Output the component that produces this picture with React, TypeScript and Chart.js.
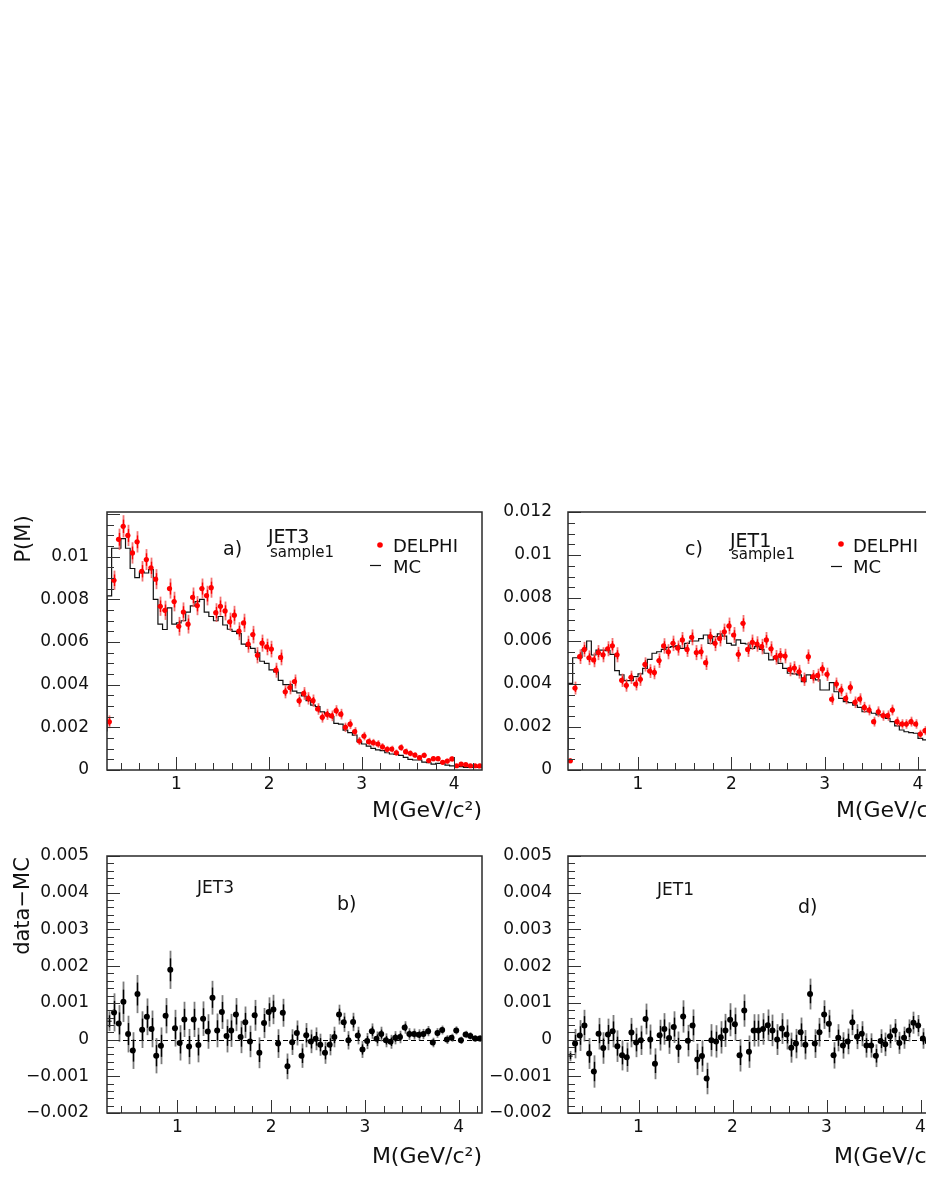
import React, { useEffect, useRef } from 'react';
import { Chart, registerables } from 'chart.js';

Chart.register(...registerables);

// ---------------- data ----------------
const massBinCenters = [
  0.275, 0.325, 0.375, 0.425, 0.475, 0.525, 0.575, 0.625, 0.675, 0.725,
  0.775, 0.825, 0.875, 0.925, 0.975, 1.025, 1.075, 1.125, 1.175, 1.225,
  1.275, 1.325, 1.375, 1.425, 1.475, 1.525, 1.575, 1.625, 1.675, 1.725,
  1.775, 1.825, 1.875, 1.925, 1.975, 2.025, 2.075, 2.125, 2.175, 2.225,
  2.275, 2.325, 2.375, 2.425, 2.475, 2.525, 2.575, 2.625, 2.675, 2.725,
  2.775, 2.825, 2.875, 2.925, 2.975, 3.025, 3.075, 3.125, 3.175, 3.225,
  3.275, 3.325, 3.375, 3.425, 3.475, 3.525, 3.575, 3.625, 3.675, 3.725,
  3.775, 3.825, 3.875, 3.925, 3.975, 4.025, 4.075, 4.125, 4.175, 4.225,
  4.275,
];
const BIN_HALF_WIDTH = 0.025;

// JET3 sample1: DELPHI data, errors, MC
const jet3Data = [
  0.00226, 0.0089, 0.01082, 0.01143, 0.011, 0.01018, 0.0107, 0.00932, 0.00987, 0.00948,
  0.00895, 0.00768, 0.00749, 0.00851, 0.0079, 0.00674, 0.00741, 0.00684, 0.0081, 0.00771,
  0.00851, 0.00818, 0.00855, 0.00738, 0.00768, 0.00746, 0.00695, 0.00726, 0.00651, 0.0069,
  0.0059, 0.00635, 0.00538, 0.00595, 0.00577, 0.00567, 0.00468, 0.00528, 0.00367, 0.00387,
  0.00415, 0.00325, 0.00359, 0.00336, 0.00325, 0.00286, 0.00247, 0.00261, 0.00254, 0.00278,
  0.00262, 0.002, 0.00215, 0.0018, 0.00136, 0.00159, 0.00133, 0.00128, 0.00122, 0.00109,
  0.00097, 0.00098, 0.00081, 0.00105, 0.00086, 0.00078, 0.0007, 0.00058, 0.00069, 0.00044,
  0.00053, 0.00053, 0.00036, 0.00042, 0.00052, 0.0002, 0.00028, 0.00025, 0.0002, 0.0002,
  0.00019,
];
const jet3DataErr = [
  0.0003, 0.00045, 0.0005, 0.00052, 0.0005, 0.0005, 0.0005, 0.00048, 0.00049, 0.00048,
  0.00047, 0.00045, 0.00045, 0.00047, 0.00046, 0.00044, 0.00045, 0.00044, 0.00046, 0.00045,
  0.00047, 0.00046, 0.00047, 0.00044, 0.00045, 0.00044, 0.00043, 0.00044, 0.00042, 0.00043,
  0.0004, 0.00041, 0.00038, 0.0004, 0.00039, 0.00039, 0.00035, 0.00037, 0.00031, 0.00032,
  0.00033, 0.00029, 0.0003, 0.00029, 0.00029, 0.00027, 0.00025, 0.00026, 0.00025, 0.00026,
  0.00025, 0.00022, 0.00023, 0.00021, 0.00019, 0.0002, 0.00018, 0.00018, 0.00018, 0.00017,
  0.00016, 0.00016, 0.00015, 0.00016, 0.00015, 0.00014, 0.00013, 0.00012, 0.00013, 0.00011,
  0.00012, 0.00012, 0.0001, 0.00011, 0.00012, 0.00008, 0.00009, 0.00008, 0.00008, 0.00008,
  0.00008,
];
const jet3MC = [
  0.0018, 0.00817, 0.0104, 0.0104, 0.01085, 0.0104, 0.00945, 0.00902, 0.00929, 0.00924,
  0.0094, 0.008, 0.00684, 0.00659, 0.0076, 0.00684, 0.0069, 0.007, 0.0074, 0.0077,
  0.0079, 0.008, 0.0074, 0.0072, 0.007, 0.0072, 0.0068, 0.0066, 0.0065, 0.0064,
  0.0059, 0.0058, 0.0057, 0.0055, 0.0051, 0.005, 0.0047, 0.0046, 0.0042, 0.004,
  0.004, 0.0037, 0.00362, 0.00347, 0.00325, 0.00304, 0.00297, 0.00273, 0.00265, 0.0025,
  0.00219, 0.00215, 0.00187, 0.00175, 0.00164, 0.00133, 0.00122, 0.00112, 0.00101, 0.00094,
  0.00091, 0.00081, 0.00075, 0.00073, 0.00069, 0.00059, 0.0005, 0.00047, 0.00047, 0.00037,
  0.00034, 0.00028, 0.00031, 0.00031, 0.00023, 0.00019, 0.00019, 0.00016, 0.00012, 0.00012,
  0.00012,
];
// JET3 data - MC
const jet3Diff = [
  0.0005, 0.00074, 0.00044, 0.00103, 0.00015, -0.0003, 0.00124, 0.00027, 0.00062, 0.00029,
  -0.00044, -0.00017, 0.00065, 0.0019, 0.00031, -0.00009, 0.00055, -0.00019, 0.00055, -0.00015,
  0.00057, 0.00022, 0.00114, 0.00025, 0.00075, 0.0001, 0.00025, 0.00068, 0.00007, 0.00047,
  -0.00005, 0.00066, -0.00036, 0.00045, 0.00075, 0.00082, -0.00011, 0.00073, -0.00073, -0.00007,
  0.00018, -0.00044, 0.00012, -0.00005, 0.00002, -0.00014, -0.00036, -0.00014, 0.00007, 0.00068,
  0.00047, -0.00002, 0.00048, 0.00011, -0.00027, -0.00004, 0.00023, 0.00002, 0.00015, -0.00002,
  -0.00006, 0.00005, 0.00007, 0.00033, 0.00015, 0.00015, 0.00013, 0.00015, 0.00023, -0.00008,
  0.00018, 0.00026, 0.0, 0.00005, 0.00025, -0.00002, 0.00014, 0.0001, 0.00003, 0.00003,
];
const jet3DiffErr = [
  0.00027, 0.00052, 0.0005, 0.00055, 0.0005, 0.0005, 0.00052, 0.0005, 0.0005, 0.0005,
  0.00048, 0.0005, 0.00048, 0.00052, 0.0005, 0.00048, 0.00048, 0.00048, 0.00048, 0.00047,
  0.00047, 0.00047, 0.00046, 0.00046, 0.00046, 0.00045, 0.00045, 0.00045, 0.00044, 0.00043,
  0.00043, 0.00042, 0.00042, 0.00041, 0.0004, 0.0004, 0.00039, 0.00038, 0.00035, 0.00035,
  0.00034, 0.00033, 0.00033, 0.00032, 0.00031, 0.0003, 0.0003, 0.00029, 0.00028, 0.00027,
  0.00026, 0.00025, 0.00025, 0.00024, 0.00023, 0.00022, 0.00021, 0.0002, 0.0002, 0.00019,
  0.00019, 0.00018, 0.00017, 0.00017, 0.00016, 0.00015, 0.00015, 0.00014, 0.00014, 0.00013,
  0.00013, 0.00012, 0.00012, 0.00011, 0.00011, 0.0001, 0.0001, 0.0001, 0.00009, 0.00009,
];

// JET1 sample1: DELPHI data, errors, MC
const jet1Data = [
  0.00043, 0.00381, 0.00527, 0.00561, 0.00522, 0.00512, 0.00546, 0.00536, 0.00564, 0.00578,
  0.00536, 0.00417, 0.00394, 0.00431, 0.004, 0.00422, 0.00491, 0.0046, 0.00454, 0.00509,
  0.00577, 0.0055, 0.00589, 0.00567, 0.00605, 0.00561, 0.00617, 0.00546, 0.0055, 0.00499,
  0.0062, 0.00589, 0.00612, 0.00643, 0.0067, 0.00628, 0.00538, 0.00682, 0.00561, 0.00594,
  0.00586, 0.00574, 0.00605, 0.00564, 0.00524, 0.00533, 0.0053, 0.00468, 0.00474, 0.00457,
  0.00422, 0.00527, 0.00434, 0.0044, 0.0047, 0.00445, 0.00329, 0.004, 0.00372, 0.00333,
  0.00384, 0.00315, 0.0033, 0.00291, 0.00279, 0.00225, 0.00271, 0.00253, 0.00253, 0.00279,
  0.00225, 0.00214, 0.00214, 0.00225, 0.00214, 0.00167, 0.00183, 0.0016, 0.0015, 0.0014,
  0.0013,
];
const jet1DataErr = [
  0.00012, 0.0003, 0.00034, 0.00035, 0.00034, 0.00034, 0.00035, 0.00035, 0.00035, 0.00036,
  0.00035, 0.00031, 0.0003, 0.00031, 0.0003, 0.00031, 0.00033, 0.00032, 0.00032, 0.00034,
  0.00036, 0.00035, 0.00036, 0.00035, 0.00037, 0.00035, 0.00037, 0.00035, 0.00035, 0.00034,
  0.00037, 0.00036, 0.00037, 0.00038, 0.00039, 0.00037, 0.00035, 0.00039, 0.00035, 0.00036,
  0.00036, 0.00036, 0.00037, 0.00035, 0.00034, 0.00034, 0.00034, 0.00032, 0.00032, 0.00032,
  0.00031, 0.00034, 0.00031, 0.00031, 0.00032, 0.00031, 0.00027, 0.0003, 0.00029, 0.00027,
  0.00029, 0.00027, 0.00027, 0.00026, 0.00025, 0.00023, 0.00025, 0.00024, 0.00024, 0.00025,
  0.00023, 0.00022, 0.00022, 0.00023, 0.00022, 0.0002, 0.00021, 0.0002, 0.00019, 0.00019,
  0.00018,
];
const jet1MC = [
  0.00093, 0.00403, 0.00522, 0.00522, 0.0056, 0.006, 0.00535, 0.00558, 0.00558, 0.00555,
  0.00538, 0.00462, 0.00442, 0.00416, 0.00416, 0.00434, 0.00447, 0.00473, 0.00515, 0.00543,
  0.0055, 0.00561, 0.0057, 0.00574, 0.00577, 0.00566, 0.00589, 0.006, 0.006, 0.00611,
  0.00628, 0.00589, 0.0062, 0.00633, 0.00623, 0.00589, 0.00581, 0.00605, 0.00589, 0.00586,
  0.00566, 0.00574, 0.00561, 0.00543, 0.00512, 0.00527, 0.00496, 0.00473, 0.0045, 0.00447,
  0.00442, 0.00411, 0.00442, 0.00426, 0.00419, 0.00372, 0.00372, 0.00406, 0.00364, 0.00333,
  0.00318, 0.00313, 0.00302, 0.00291, 0.00271, 0.00271, 0.00264, 0.00256, 0.00256, 0.0024,
  0.00225, 0.00205, 0.00186, 0.00178, 0.00174, 0.00171, 0.00147, 0.0014, 0.0013, 0.0013,
  0.0012,
];
// JET1 data - MC
const jet1Diff = [
  -0.00045, -0.00011, 0.00011, 0.00038, -0.00038, -0.00087, 0.00016, -0.00023, 0.00014, 0.00023,
  -0.00018, -0.00043, -0.00048, 0.00019, -0.00008, -0.00002, 0.00056, 0.0, -0.00066, 0.00012,
  0.00029, 0.00004, 0.00034, -0.00021, 0.00063, -0.00003, 0.00038, -0.00054, -0.00045, -0.00106,
  -0.00002, -0.00005, 0.00006, 0.00025, 0.00054, 0.00042, -0.00043, 0.00079, -0.00033, 0.00025,
  0.00025, 0.00029, 0.00039, 0.00025, 0.0, 0.0003, 0.00014, -0.00022, -0.00011, 0.0002,
  -0.00014, 0.00124, -0.00011, 0.0002, 0.00068, 0.00043, -0.00043, 0.00005, -0.00016, -0.00005,
  0.00047, 0.00008, 0.00016, -0.00016, -0.00016, -0.00044, -0.00004, -0.00013, 0.00009, 0.00025,
  -0.00009, 0.00005, 0.00025, 0.00046, 0.00038, 0.00003, -0.00005, 0.0001, -0.0001, 0.00015,
];
const jet1DiffErr = [
  0.00014, 0.0004, 0.00042, 0.00043, 0.00042, 0.00044, 0.00043, 0.00043, 0.00043, 0.00044,
  0.00043, 0.00041, 0.0004, 0.0004, 0.0004, 0.0004, 0.00042, 0.00041, 0.00042, 0.00042,
  0.00043, 0.00043, 0.00043, 0.00043, 0.00044, 0.00043, 0.00044, 0.00043, 0.00043, 0.00043,
  0.00044, 0.00044, 0.00044, 0.00045, 0.00045, 0.00045, 0.00044, 0.00044, 0.00044, 0.00044,
  0.00044, 0.00043, 0.00043, 0.00043, 0.00042, 0.00042, 0.00041, 0.00041, 0.0004, 0.0004,
  0.0004, 0.00042, 0.00039, 0.00039, 0.00039, 0.00038, 0.00036, 0.00037, 0.00036, 0.00035,
  0.00035, 0.00034, 0.00034, 0.00033, 0.00033, 0.00031, 0.00032, 0.00032, 0.00032, 0.00031,
  0.0003, 0.0003, 0.0003, 0.0003, 0.00029, 0.00028, 0.00028, 0.00027, 0.00027, 0.00026,
];

// ticks
const massTicks = [1, 2, 3, 4];
const massTickLabels = ['1', '2', '3', '4'];
const probTicksJet3 = [0, 0.002, 0.004, 0.006, 0.008, 0.01];
const probTickLabelsJet3 = ['0', '0.002', '0.004', '0.006', '0.008', '0.01'];
const probTicksJet1 = [0, 0.002, 0.004, 0.006, 0.008, 0.01, 0.012];
const probTickLabelsJet1 = ['0', '0.002', '0.004', '0.006', '0.008', '0.01', '0.012'];
const diffTicks = [-0.002, -0.001, 0, 0.001, 0.002, 0.003, 0.004, 0.005];
const diffTickLabels = ['\u22120.002', '\u22120.001', '0', '0.001', '0.002', '0.003', '0.004', '0.005'];

// ---------------- layout / style ----------------
const CANVAS_W = 1000;
const CANVAS_H = 1199;
const FONT = "'DejaVu Sans', 'Noto Sans', sans-serif";
const TEXT_COLOR = '#111';
const X_TITLE = 'M(GeV/c\u00B2)';

type TextItem = { text: string; x: number; y: number; size: number; align?: CanvasTextAlign; rotate?: boolean };
type Panel = {
  id: string;
  area: { left: number; top: number; right: number; bottom: number };
  xMin: number; xMax: number;
  yMin: number; yMax: number;
  yTicks: number[]; yTickLabels: string[];
  yMajorStep: number; yMinorStep: number;
  yLabelPad: number;
  values: number[]; errors: number[];
  mc?: number[];
  residual: boolean;
  pointColor: string; errOuter: string; errInner: string; pointRadius: number;
  texts: TextItem[];
  legend?: { dotX: number; dotY: number; lineX0: number; lineX1: number; lineY: number };
};

const panels: Panel[] = [
  {
    id: 'a', area: { left: 107, top: 512, right: 482, bottom: 770 },
    xMin: 0.25, xMax: 4.3, yMin: 0, yMax: 0.0121,
    yTicks: probTicksJet3, yTickLabels: probTickLabelsJet3, yMajorStep: 0.002, yMinorStep: 0.0005, yLabelPad: 18,
    values: jet3Data, errors: jet3DataErr, mc: jet3MC, residual: false,
    pointColor: '#ff0000', errOuter: 'rgba(240,90,90,0.85)', errInner: '#ff0000', pointRadius: 2.6,
    texts: [
      { text: 'P(M)', x: 25, y: 539, size: 21, rotate: true },
      { text: 'a)', x: 223, y: 555, size: 19 },
      { text: 'JET3', x: 268, y: 543, size: 19 },
      { text: 'sample1', x: 270, y: 557, size: 15 },
      { text: 'DELPHI', x: 393, y: 552, size: 18 },
      { text: 'MC', x: 393, y: 573, size: 18 },
      { text: X_TITLE, x: 482, y: 817, size: 22, align: 'right' },
    ],
    legend: { dotX: 380, dotY: 545, lineX0: 370, lineX1: 381, lineY: 565.5 },
  },
  {
    id: 'c', area: { left: 568, top: 512, right: 946, bottom: 770 },
    xMin: 0.25, xMax: 4.3, yMin: 0, yMax: 0.012,
    yTicks: probTicksJet1, yTickLabels: probTickLabelsJet1, yMajorStep: 0.002, yMinorStep: 0.0005, yLabelPad: 16,
    values: jet1Data, errors: jet1DataErr, mc: jet1MC, residual: false,
    pointColor: '#ff0000', errOuter: 'rgba(240,90,90,0.85)', errInner: '#ff0000', pointRadius: 2.6,
    texts: [
      { text: 'c)', x: 685, y: 555, size: 19 },
      { text: 'JET1', x: 730, y: 547, size: 19 },
      { text: 'sample1', x: 731, y: 559, size: 15 },
      { text: 'DELPHI', x: 853, y: 552, size: 18 },
      { text: 'MC', x: 853, y: 573, size: 18 },
      { text: X_TITLE, x: 946, y: 817, size: 22, align: 'right' },
    ],
    legend: { dotX: 841, dotY: 544, lineX0: 831, lineX1: 842, lineY: 566.5 },
  },
  {
    id: 'b', area: { left: 107, top: 856, right: 482, bottom: 1113 },
    xMin: 0.25, xMax: 4.25, yMin: -0.002, yMax: 0.005,
    yTicks: diffTicks, yTickLabels: diffTickLabels, yMajorStep: 0.001, yMinorStep: 0.0002, yLabelPad: 18,
    values: jet3Diff, errors: jet3DiffErr, residual: true,
    pointColor: '#000000', errOuter: 'rgba(110,110,110,0.9)', errInner: '#000000', pointRadius: 3,
    texts: [
      { text: 'data\u2212MC', x: 24, y: 906, size: 21, rotate: true },
      { text: 'JET3', x: 197, y: 893, size: 17 },
      { text: 'b)', x: 337, y: 910, size: 19 },
      { text: X_TITLE, x: 482, y: 1163, size: 22, align: 'right' },
    ],
  },
  {
    id: 'd', area: { left: 568, top: 856, right: 944, bottom: 1113 },
    xMin: 0.25, xMax: 4.25, yMin: -0.002, yMax: 0.005,
    yTicks: diffTicks, yTickLabels: diffTickLabels, yMajorStep: 0.001, yMinorStep: 0.0002, yLabelPad: 16,
    values: jet1Diff, errors: jet1DiffErr, residual: true,
    pointColor: '#000000', errOuter: 'rgba(110,110,110,0.9)', errInner: '#000000', pointRadius: 3,
    texts: [
      { text: 'JET1', x: 657, y: 895, size: 17 },
      { text: 'd)', x: 798, y: 913, size: 19 },
      { text: X_TITLE, x: 944, y: 1163, size: 22, align: 'right' },
    ],
  },
];

const Y_AXIS_W = 100;
const X_AXIS_H = 40;

function line(ctx: CanvasRenderingContext2D, x0: number, y0: number, x1: number, y1: number) {
  ctx.beginPath();
  ctx.moveTo(x0, y0);
  ctx.lineTo(x1, y1);
  ctx.stroke();
}

function drawText(ctx: CanvasRenderingContext2D, t: TextItem) {
  ctx.save();
  ctx.font = `${t.size}px ${FONT}`;
  ctx.fillStyle = TEXT_COLOR;
  if (t.rotate) {
    ctx.translate(t.x, t.y);
    ctx.rotate(-Math.PI / 2);
    ctx.textAlign = 'center';
    ctx.textBaseline = 'middle';
    ctx.fillText(t.text, 0, 0);
  } else {
    ctx.textAlign = t.align ?? 'left';
    ctx.textBaseline = 'alphabetic';
    ctx.fillText(t.text, t.x, t.y);
  }
  ctx.restore();
}

function makePlugin(p: Panel) {
  return {
    id: 'paw_' + p.id,
    beforeDatasetsDraw(chart: any) {
      if (!p.residual) return;
      const ctx: CanvasRenderingContext2D = chart.ctx;
      const a = chart.chartArea;
      const y0 = Math.round(chart.scales.y.getPixelForValue(0)) + 0.5;
      ctx.save();
      ctx.strokeStyle = '#000';
      ctx.lineWidth = 1;
      ctx.setLineDash([5, 3]);
      line(ctx, a.left, y0, a.right, y0);
      ctx.restore();
    },
    beforeDatasetDraw(chart: any, args: any) {
      if (args.index !== 0) return;
      const ctx: CanvasRenderingContext2D = chart.ctx;
      const xs = chart.scales.x;
      const ys = chart.scales.y;
      const a = chart.chartArea;
      ctx.save();
      ctx.beginPath();
      ctx.rect(a.left, a.top, a.right - a.left, a.bottom - a.top);
      ctx.clip();
      p.values.forEach((v, i) => {
        const e = p.errors[i];
        const x = Math.round(xs.getPixelForValue(massBinCenters[i])) + 0.5;
        const yc = ys.getPixelForValue(v);
        const yLo = ys.getPixelForValue(v - e);
        const yHi = ys.getPixelForValue(v + e);
        ctx.strokeStyle = p.errOuter;
        ctx.lineWidth = 1.8;
        line(ctx, x, yLo, x, yHi);
        ctx.strokeStyle = p.errInner;
        ctx.lineWidth = 1.4;
        line(ctx, x, ys.getPixelForValue(v - 0.6 * e), x, ys.getPixelForValue(v + 0.6 * e));
        ctx.lineWidth = 1;
        const xl = xs.getPixelForValue(massBinCenters[i] - BIN_HALF_WIDTH);
        const xr = xs.getPixelForValue(massBinCenters[i] + BIN_HALF_WIDTH);
        line(ctx, xl, yc, xr, yc);
      });
      ctx.restore();
    },
    afterDraw(chart: any) {
      const ctx: CanvasRenderingContext2D = chart.ctx;
      const xs = chart.scales.x;
      const ys = chart.scales.y;
      const a = chart.chartArea;
      ctx.save();
      ctx.strokeStyle = '#333';
      ctx.lineWidth = 1;
      // x ticks, inward from the bottom axis
      const xStep = 0.2;
      for (let k = Math.ceil(p.xMin / xStep + 1e-6); k * xStep < p.xMax - 1e-6; k++) {
        const v = k * xStep;
        const major = Math.abs(v - Math.round(v)) < 1e-6;
        const px = Math.round(xs.getPixelForValue(v)) + 0.5;
        line(ctx, px, a.bottom, px, a.bottom - (major ? 13 : 7));
      }
      // y ticks, inward from the left axis
      const nMinor = Math.round((p.yMax - p.yMin) / p.yMinorStep);
      for (let k = 0; k <= nMinor; k++) {
        const v = p.yMin + k * p.yMinorStep;
        if (v > p.yMax + 1e-9) break;
        const ratio = (v - p.yMin) / p.yMajorStep;
        const major = Math.abs(ratio - Math.round(ratio)) < 1e-6;
        const py = Math.round(ys.getPixelForValue(v)) + 0.5;
        line(ctx, a.left, py, a.left + (major ? 13 : 7), py);
      }
      // frame
      ctx.strokeStyle = '#2a2a2a';
      ctx.lineWidth = 1.5;
      ctx.strokeRect(a.left, a.top, a.right - a.left, a.bottom - a.top);
      ctx.restore();
      // legend
      if (p.legend) {
        const L = p.legend;
        ctx.save();
        ctx.fillStyle = '#ff0000';
        ctx.beginPath();
        ctx.arc(L.dotX, L.dotY, 2.8, 0, Math.PI * 2);
        ctx.fill();
        ctx.strokeStyle = '#111';
        ctx.lineWidth = 1.2;
        line(ctx, L.lineX0, L.lineY, L.lineX1, L.lineY);
        ctx.restore();
      }
      p.texts.forEach((t) => drawText(ctx, t));
    },
  };
}

function makeChart(canvas: HTMLCanvasElement, p: Panel) {
  const points = p.values.map((v, i) => ({ x: massBinCenters[i], y: v }));
  const datasets: any[] = [
    {
      type: 'scatter',
      data: points,
      pointRadius: (c: any) => (p.residual && c.dataIndex === 0 ? 0 : p.pointRadius),
      pointBackgroundColor: p.pointColor,
      pointBorderWidth: 0,
      showLine: false,
      order: 0,
    },
  ];
  if (p.mc) {
    const mc = p.mc;
    const hist = mc.map((v, i) => ({ x: massBinCenters[i] - BIN_HALF_WIDTH, y: v }));
    hist.push({ x: massBinCenters[mc.length - 1] + BIN_HALF_WIDTH, y: mc[mc.length - 1] });
    datasets.push({
      type: 'line',
      data: hist,
      stepped: 'after',
      borderColor: '#111',
      borderWidth: 1.2,
      pointRadius: 0,
      fill: false,
      order: 1,
    });
  }
  const tickFont = { family: FONT, size: 17 };
  return new Chart(canvas, {
    type: 'scatter',
    data: { datasets },
    options: {
      responsive: false,
      animation: false,
      devicePixelRatio: 1,
      events: [],
      layout: {
        padding: {
          left: p.area.left - Y_AXIS_W,
          top: p.area.top,
          right: CANVAS_W - p.area.right,
          bottom: CANVAS_H - p.area.bottom - X_AXIS_H,
        },
      },
      plugins: { legend: { display: false }, tooltip: { enabled: false } },
      scales: {
        x: {
          type: 'linear',
          position: 'bottom',
          min: p.xMin,
          max: p.xMax,
          grid: { display: false, drawTicks: false },
          border: { display: false },
          afterFit: (s: any) => { s.height = X_AXIS_H; },
          afterBuildTicks: (s: any) => { s.ticks = massTicks.map((v) => ({ value: v })); },
          ticks: {
            padding: 4,
            maxRotation: 0,
            autoSkip: false,
            color: TEXT_COLOR,
            font: tickFont,
            callback: (_v: any, i: number) => massTickLabels[i],
          },
        },
        y: {
          type: 'linear',
          position: 'left',
          min: p.yMin,
          max: p.yMax,
          grid: { display: false, drawTicks: false },
          border: { display: false },
          afterFit: (s: any) => { s.width = Y_AXIS_W; },
          afterBuildTicks: (s: any) => { s.ticks = p.yTicks.map((v) => ({ value: v })); },
          ticks: {
            padding: p.yLabelPad,
            autoSkip: false,
            color: TEXT_COLOR,
            font: tickFont,
            callback: (_v: any, i: number) => p.yTickLabels[i],
          },
        },
      },
    } as any,
    plugins: [makePlugin(p)],
  });
}

function PanelCanvas({ panel }: { panel: Panel }) {
  const ref = useRef<HTMLCanvasElement>(null);
  useEffect(() => {
    if (!ref.current) return;
    const chart = makeChart(ref.current, panel);
    return () => chart.destroy();
  }, [panel]);
  return (
    <canvas
      ref={ref}
      width={CANVAS_W}
      height={CANVAS_H}
      style={{ position: 'absolute', left: 0, top: 0, width: CANVAS_W, height: CANVAS_H }}
    />
  );
}

export default function App() {
  return (
    <div
      style={{
        position: 'fixed',
        left: 0,
        top: 0,
        width: 926,
        height: 1199,
        overflow: 'hidden',
        background: '#ffffff',
      }}
    >
      {panels.map((p) => (
        <PanelCanvas key={p.id} panel={p} />
      ))}
    </div>
  );
}
